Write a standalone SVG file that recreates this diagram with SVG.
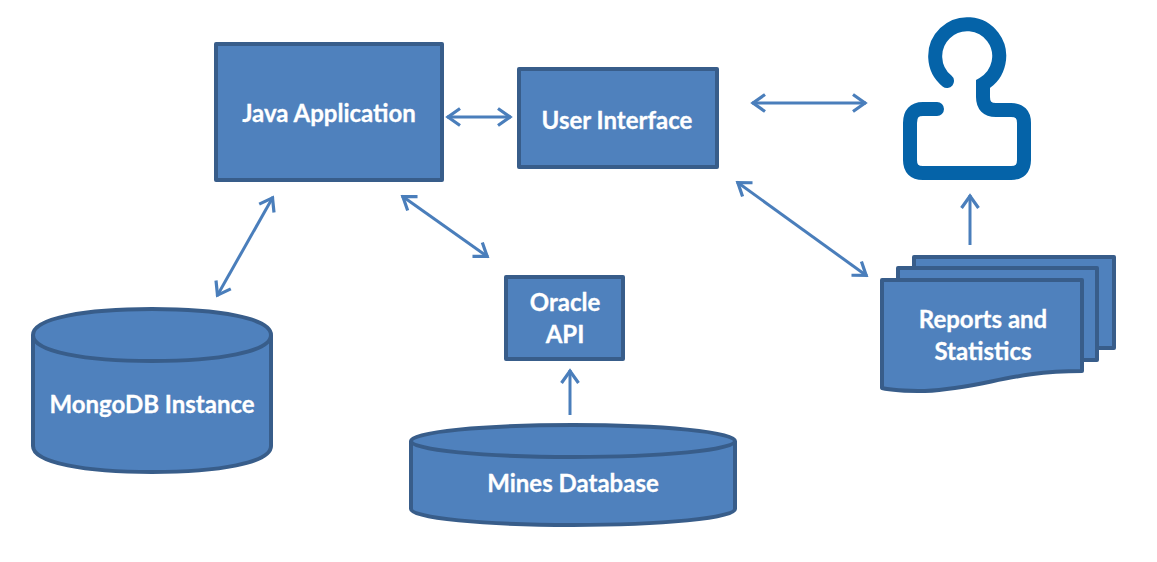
<svg xmlns="http://www.w3.org/2000/svg" width="1157" height="562" viewBox="0 0 1157 562">
<style>
.s{fill:#4f81bd;stroke:#385d8a;stroke-width:4;stroke-linejoin:round}
.t{fill:#fff;font-family:"Lato","Carlito","Open Sans",sans-serif;font-weight:700;font-size:24px;text-anchor:middle;stroke:#fff;stroke-width:.3px}
.c{fill:none;stroke:#4a7ebb;stroke-width:3;marker-start:url(#a);marker-end:url(#a)}
.u{fill:none;stroke:#4a7ebb;stroke-width:3;marker-end:url(#a)}
</style>
<defs>
<marker id="a" markerUnits="userSpaceOnUse" markerWidth="26" markerHeight="26" refX="18" refY="13" orient="auto-start-reverse" viewBox="0 0 26 26">
<path d="M5 4.5 L17 13 L5 21.5" fill="none" stroke="#4a7ebb" stroke-width="3.2"/>
</marker>
</defs>
<rect width="1157" height="562" fill="#fff"/>
<g id="connectors">
<path class="c" d="M447 117H511"/>
<path class="c" d="M752 103H866"/>
<path class="u" d="M970 245V195"/>
<path class="c" d="M273 197L217 296"/>
<path class="c" d="M402 196L488 257"/>
<path class="c" d="M737 182L867 276"/>
<path class="u" d="M570 415V370"/>
</g>
<g id="java-application"><rect class="s" x="216" y="44" width="226" height="136"/><text class="t" x="329" y="122">Java Application</text></g>
<g id="user-interface"><rect class="s" x="519" y="69" width="198" height="98"/><text class="t" x="617" y="129">User Interface</text></g>
<g id="user"><path d="M947 81A32 32 0 1 1 983 84V97Q983 110 996 110H1011Q1024 110 1024 123V160Q1024 173 1011 173H923Q910 173 910 160V123Q910 109 923 109H937" fill="none" stroke="#0563a8" stroke-width="14" stroke-linecap="round"/></g>
<g id="mongodb-instance"><path class="s" d="M33 335C33 318 86 309 152 309S271 318 271 335V446C271 463 218 472 152 472S33 463 33 446Z"/><path class="s" style="fill:none" d="M33 335C33 352 86 361 152 361S271 352 271 335"/><text class="t" x="152" y="413">MongoDB Instance</text></g>
<g id="oracle-api"><rect class="s" x="506" y="277" width="117" height="82"/><text class="t" x="565" y="311">Oracle</text><text class="t" x="565" y="343">API</text></g>
<g id="mines-database"><path class="s" d="M411 441C411 432 484 425 573 425S735 432 735 441V509C735 518 662 525 573 525S411 518 411 509Z"/><path class="s" style="fill:none" d="M411 441C411 450 484 457 573 457S735 450 735 441"/><text class="t" x="573" y="492">Mines Database</text></g>
<g id="reports-and-statistics">
<rect class="s" x="914" y="257" width="200" height="91"/>
<rect class="s" x="898" y="268" width="199" height="92"/>
<path class="s" d="M882 280H1082V371C1010 371 985 388 925 391C905 391 890 390 882 388Z"/>
<text class="t" x="983" y="328">Reports and</text><text class="t" x="983" y="360">Statistics</text></g>
</svg>
